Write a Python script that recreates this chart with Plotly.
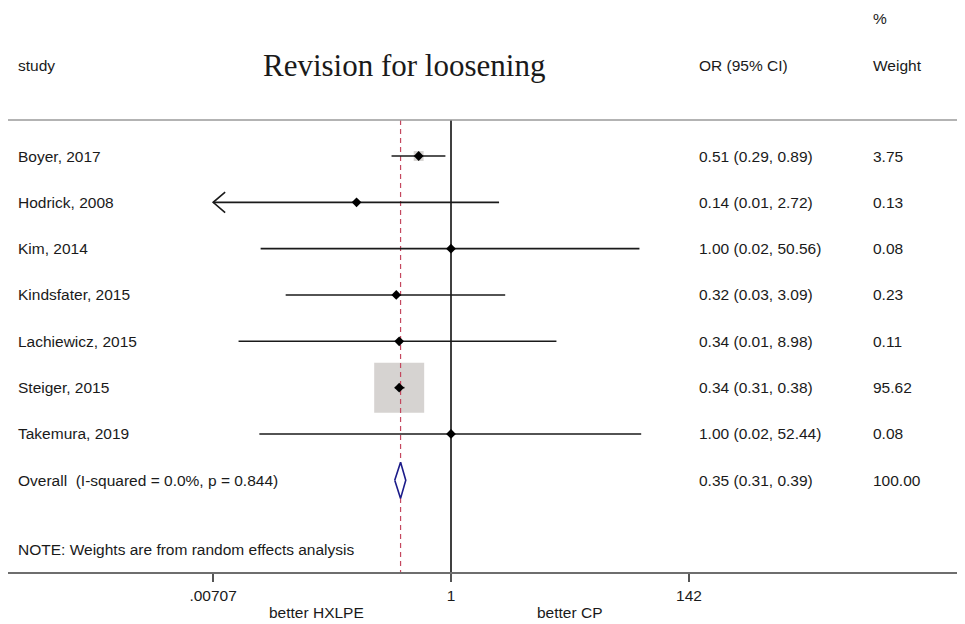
import plotly.graph_objects as go
import numpy as np

# ---------------- data ----------------
studies = ["Boyer, 2017", "Hodrick, 2008", "Kim, 2014", "Kindsfater, 2015",
           "Lachiewicz, 2015", "Steiger, 2015", "Takemura, 2019"]
or_est = [0.51, 0.14, 1.00, 0.32, 0.34, 0.34, 1.00]
ci_low = [0.29, 0.005, 0.019, 0.032, 0.012, 0.31, 0.0185]
ci_high = [0.89, 2.72, 50.56, 3.09, 8.98, 0.38, 52.44]
weights = [3.75, 0.13, 0.08, 0.23, 0.11, 95.62, 0.08]
or_text = ["0.51 (0.29, 0.89)", "0.14 (0.01, 2.72)", "1.00 (0.02, 50.56)",
           "0.32 (0.03, 3.09)", "0.34 (0.01, 8.98)", "0.34 (0.31, 0.38)",
           "1.00 (0.02, 52.44)"]
weight_text = ["3.75", "0.13", "0.08", "0.23", "0.11", "95.62", "0.08"]

overall_label = "Overall  (I-squared = 0.0%, p = 0.844)"
overall_or, overall_low, overall_high = 0.35, 0.31, 0.39
overall_or_text = "0.35 (0.31, 0.39)"
overall_weight_text = "100.00"

tick_vals = [0.00707, 1, 142]
tick_text = [".00707", "1", "142"]

title_text = "Revision for loosening"
note_text = "NOTE: Weights are from random effects analysis"
left_label, right_label = "better HXLPE", "better CP"

# ---------------- layout helpers ----------------
OFF = 8                      # page body margin
W, H = 965 - OFF, 624 - OFF
n = len(studies)
rows = list(range(n))
overall_row = n
ROW0, ROWH = 156, 46.33      # reference pixel of first row, row spacing
AX_PX = 572                  # reference pixel of x axis line
def row_of(px):
    return (px - ROW0) / ROWH
y_top, y_bottom = row_of(OFF), row_of(AX_PX)
head_row = row_of(65)
pct_row = row_of(18)
rule_row = row_of(120)
note_row = row_of(549)
xmin, xmax = tick_vals[0], tick_vals[-1]
PPD = 110.6                  # pixels per decade
X1_PX = 451
x_range = [(OFF - X1_PX) / PPD, (965 - X1_PX) / PPD]

FONT = "Liberation Sans, Arial, Helvetica, sans-serif"
TXT = "#1a1a1a"
fs = 15.5

fig = go.Figure()

# weight boxes
k = 50 / np.sqrt(max(weights))
fig.add_trace(go.Scatter(
    x=or_est, y=rows, mode="markers",
    marker=dict(symbol="square", size=[np.sqrt(w) * k for w in weights],
                color="#c4c0be", line=dict(width=0)),
    hoverinfo="skip", showlegend=False))

# vertical null line and overall dashed line
fig.add_trace(go.Scatter(x=[1, 1], y=[rule_row, y_bottom], mode="lines",
                         line=dict(color="black", width=1.5),
                         hoverinfo="skip", showlegend=False, cliponaxis=False))
fig.add_trace(go.Scatter(x=[overall_or, overall_or], y=[rule_row, y_bottom], mode="lines",
                         line=dict(color="#c4485f", width=1.2, dash="5px,4px"),
                         hoverinfo="skip", showlegend=False, cliponaxis=False))

# CI lines (clipped at axis limits, with arrows)
f = 10 ** (12 / PPD)
for i in rows:
    lo = max(ci_low[i], xmin)
    hi = min(ci_high[i], xmax)
    fig.add_trace(go.Scatter(x=[lo, hi], y=[i, i], mode="lines",
                             line=dict(color="#1a1a1a", width=1.6),
                             hoverinfo="skip", showlegend=False))
    if ci_low[i] < xmin:
        fig.add_trace(go.Scatter(x=[xmin * f, xmin, xmin * f], y=[i - 0.22, i, i + 0.22],
                                 mode="lines", line=dict(color="#1a1a1a", width=1.6),
                                 hoverinfo="skip", showlegend=False))
    if ci_high[i] > xmax:
        fig.add_trace(go.Scatter(x=[xmax / f, xmax, xmax / f], y=[i - 0.22, i, i + 0.22],
                                 mode="lines", line=dict(color="#1a1a1a", width=1.6),
                                 hoverinfo="skip", showlegend=False))

# point estimates
fig.add_trace(go.Scatter(x=or_est, y=rows, mode="markers",
                         marker=dict(symbol="diamond", size=7.5, color="black"),
                         hoverinfo="skip", showlegend=False))

# overall diamond
h = 0.39
fig.add_trace(go.Scatter(
    x=[overall_low, overall_or, overall_high, overall_or, overall_low],
    y=[overall_row, overall_row - h, overall_row, overall_row + h, overall_row],
    mode="lines", fill="toself", fillcolor="white",
    line=dict(color="#1c1c8a", width=1.6),
    hoverinfo="skip", showlegend=False))

ann = []
def txt(x, y, s, size=fs, anchor="left", yref="y", family=FONT):
    ann.append(dict(x=(x - OFF) / W, y=y, xref="paper", yref=yref, text=s, showarrow=False,
                    xanchor=anchor, yanchor="middle",
                    font=dict(family=family, size=size, color=TXT)))

for i in rows:
    txt(16, i, studies[i])
    txt(697, i, or_text[i])
    txt(871, i, weight_text[i])
txt(16, overall_row, overall_label)
txt(697, overall_row, overall_or_text)
txt(871, overall_row, overall_weight_text)

txt(16, head_row, "study")
txt(404, head_row, title_text, size=31, anchor="center",
    family="Liberation Serif, Times New Roman, serif")
txt(697, head_row, "OR (95% CI)")
txt(871, head_row, "Weight")
txt(871, pct_row, "%")
txt(16, note_row, note_text)

plot_h = AX_PX - OFF
txt(316, (plot_h - (612 - OFF)) / plot_h, left_label, anchor="center", yref="paper")
txt(569, (plot_h - (612 - OFF)) / plot_h, right_label, anchor="center", yref="paper")

fig.update_layout(
    width=W, height=H,
    margin=dict(l=0, r=0, t=0, b=H - plot_h),
    paper_bgcolor="white", plot_bgcolor="white",
    annotations=ann,
    shapes=[dict(type="line", xref="paper", yref="y", x0=0, x1=1,
                 y0=rule_row, y1=rule_row, line=dict(color="#9a9a9a", width=1.5))],
    xaxis=dict(type="log", range=x_range, tickvals=tick_vals, ticktext=tick_text,
               ticks="outside", ticklen=8, tickwidth=1.5, tickcolor="#555",
               showline=True, linecolor="#6e6e6e", linewidth=2,
               showgrid=False, zeroline=False,
               tickfont=dict(family=FONT, size=fs, color=TXT)),
    yaxis=dict(range=[y_bottom, y_top], visible=False, showgrid=False, zeroline=False),
)

fig.write_html("out.html")
